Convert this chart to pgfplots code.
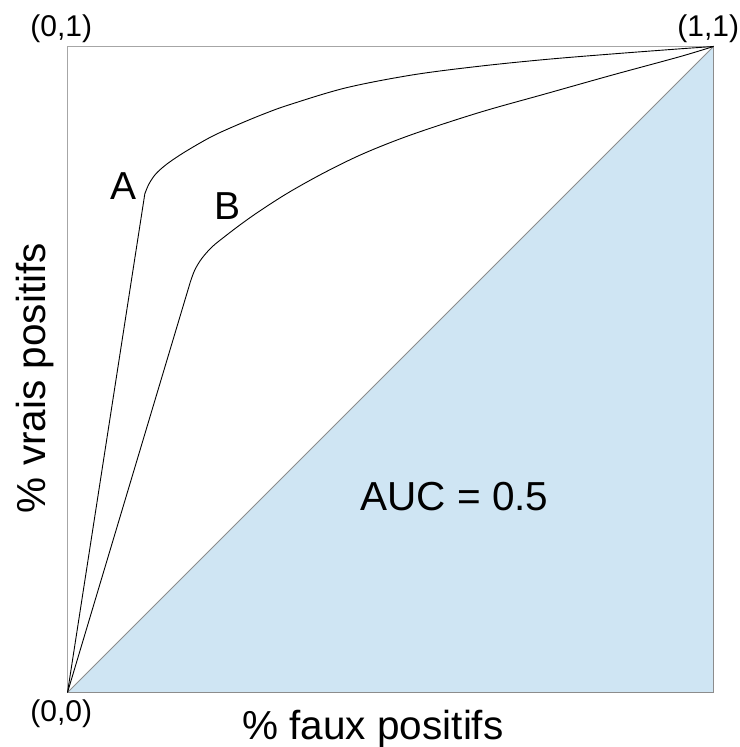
\documentclass[border=0pt]{standalone}
\usepackage{pgfplots}
\pgfplotsset{compat=1.18}
\usepackage{fontspec}
\setmainfont{Liberation Sans}
\definecolor{aucblue}{RGB}{207,229,243}
\begin{document}
\begin{tikzpicture}[x=1pt,y=1pt]
\useasboundingbox (0,0) rectangle (739,747);
\begin{axis}[
  at={(67.5pt,54.5pt)}, anchor=south west,
  scale only axis, width=646pt, height=646pt,
  xmin=0, xmax=1, ymin=0, ymax=1,
  xtick=\empty, ytick=\empty,
  clip=false,
  axis line style={draw=black!35, line width=0.9pt},
]
\addplot[fill=aucblue, draw=black!45, line width=0.9pt] coordinates {(0,0) (1,0) (1,1) (0,0)};
% curve A
\addplot[black, line width=0.9pt] coordinates {(0,0) (0.1197,0.772)};
\addplot[black, line width=0.9pt, smooth, tension=0.55] coordinates {
(0.1197,0.772) (0.126,0.787) (0.136,0.802) (0.150,0.815) (0.168,0.828)
(0.192,0.843) (0.226,0.862) (0.266,0.880) (0.305,0.896) (0.344,0.910)
(0.431,0.936) (0.534,0.956) (0.638,0.9695)
(0.741,0.980) (0.844,0.9885) (0.947,0.9963) (1,1)};
% curve B
\addplot[black, line width=0.9pt] coordinates {(0,0) (0.190,0.635)};
\addplot[black, line width=0.9pt, smooth, tension=0.55] coordinates {
(0.190,0.635) (0.197,0.654) (0.208,0.672) (0.224,0.690) (0.245,0.707)
(0.270,0.726) (0.300,0.747) (0.344,0.775) (0.400,0.806) (0.460,0.835) (0.534,0.864)
(0.638,0.898) (0.741,0.927) (0.844,0.956) (0.947,0.984) (1,1)};
\end{axis}
\begin{scope}[every node/.style={inner sep=0pt, anchor=base}]
\node[font=\fontsize{30}{34}\selectfont] at (61.3,710.3) {(0,1)};
\node[font=\fontsize{30}{34}\selectfont] at (708.3,710.3) {(1,1)};
\node[font=\fontsize{30}{34}\selectfont] at (61.3,25.3) {(0,0)};
\node[font=\fontsize{40.5}{48}\selectfont] at (373,7) {\% faux positifs};
\node[font=\fontsize{40.5}{48}\selectfont, rotate=90] at (45,369) {\% vrais positifs};
\node[font=\fontsize{39}{46}\selectfont] at (123.3,547.7) {A};
\node[font=\fontsize{39}{46}\selectfont] at (228,527.7) {B};
\node[font=\fontsize{40.5}{48}\selectfont] at (454.5,236.3) {AUC = 0.5};
\end{scope}
\end{tikzpicture}
\end{document}
